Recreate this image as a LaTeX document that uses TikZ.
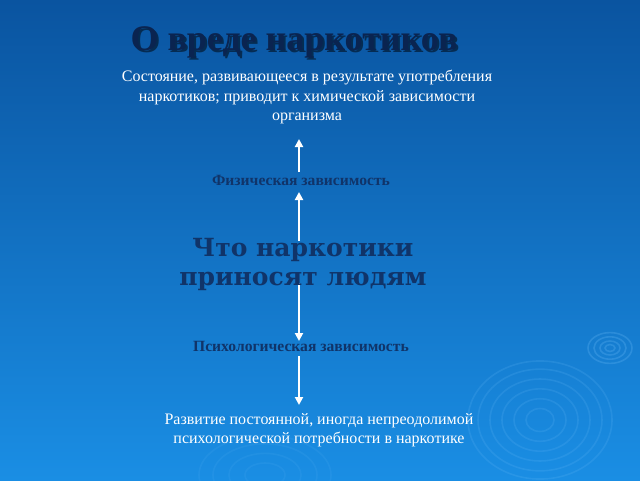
\documentclass[tikz,border=0pt]{standalone}
\usepackage{fontspec}
\setmainfont{Liberation Serif}
\newfontfamily\slabfont{DejaVu Serif}
\usetikzlibrary{arrows.meta}
\definecolor{bgtop}{RGB}{10,84,160}
\definecolor{bgmid}{RGB}{10,106,188}
\definecolor{bgbot}{RGB}{26,142,228}
\definecolor{navy}{RGB}{10,36,80}
\definecolor{midnavy}{RGB}{16,52,105}
\definecolor{ripplec}{RGB}{110,190,250}
\tikzset{
  titletext/.style={font=\fontsize{36}{40}\selectfont\bfseries, text=navy, inner sep=0pt},
  titleshadow/.style={font=\fontsize{36}{40}\selectfont\bfseries, text=black, text opacity=0.5, inner sep=0pt},
  bodytext/.style={font=\fontsize{16}{19.5}\selectfont, text=white, align=center, inner sep=0pt},
  deptext/.style={font=\fontsize{15.6}{18}\selectfont\bfseries, text=midnavy, inner sep=0pt},
  bigtext/.style={font=\slabfont\fontsize{25}{29}\selectfont\bfseries, text=midnavy, align=center, inner sep=0pt},
  arr/.style={draw=white, line width=2.6pt, -{Triangle[width=8pt,length=8pt]}},
  ripplering/.style={draw=ripplec, line width=1.6pt, opacity=0.17}
}
\begin{document}
\begin{tikzpicture}[x=1pt,y=-1pt]
\shade[top color=bgtop, middle color=bgmid, bottom color=bgbot] (0,0) rectangle (640,480);
\useasboundingbox (0,0) rectangle (640,480);
% ripples
\foreach \r in {14,26,38,50,62,72}
  \draw[ripplering] (540,420) ellipse [x radius=\r, y radius=0.82*\r];
\foreach \r in {5,10,16,22}
  \draw[ripplering, opacity=0.25] (610,348) ellipse [x radius=\r, y radius=0.7*\r];
\foreach \r in {20,36,52,66}
  \draw[ripplering, opacity=0.1] (265,475) ellipse [x radius=\r, y radius=0.6*\r];
% arrow end points
\coordinate (a1s) at (299,172);
\coordinate (a1e) at (299,139);
\coordinate (a2s) at (299,241);
\coordinate (a2e) at (299,192);
\coordinate (a3s) at (299,283);
\coordinate (a3e) at (299,341);
\coordinate (a4s) at (299,356);
\coordinate (a4e) at (299,405);
\draw[arr] (a1s) -- (a1e);
\draw[arr] (a2s) -- (a2e);
\draw[arr] (a3s) -- (a3e);
\draw[arr] (a4s) -- (a4e);
% texts
\node[titleshadow] (tshadow) at (296,44) {О вреде наркотиков};
\node[titletext] (title) at (294,42) {О вреде наркотиков};
\node[bodytext] (state) at (307,97) {Состояние, развивающееся в результате употребления\\наркотиков; приводит к химической зависимости\\организма};
\node[deptext] (phys) at (301,180) {Физическая зависимость};
\node[bigtext] (what) at (303,264) {Что наркотики\\приносят людям};
\node[deptext] (psych) at (301,346) {Психологическая зависимость};
\node[bodytext] (dev) at (319,430) {Развитие постоянной, иногда непреодолимой\\психологической потребности в наркотике};
\end{tikzpicture}
\end{document}
